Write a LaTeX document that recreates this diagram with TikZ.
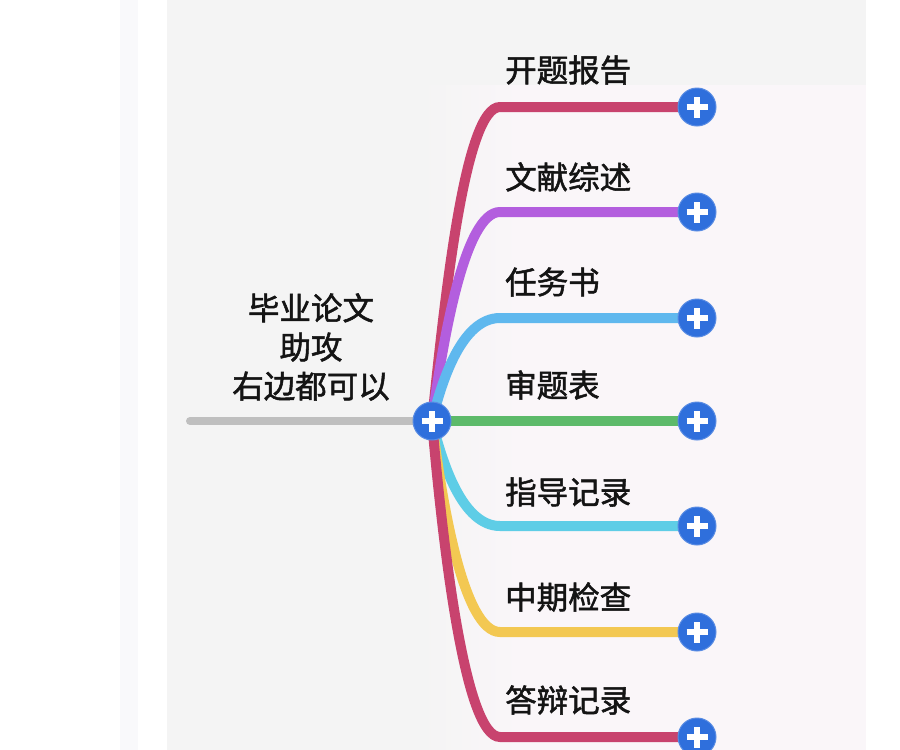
\documentclass[tikz,border=0pt]{standalone}
\usepackage{fontspec}
\newfontfamily\cjk{Noto Sans CJK SC}[FakeBold=1.6]
\usetikzlibrary{calc}
\definecolor{crim}{HTML}{C8436E}
\definecolor{purp}{HTML}{B35EDE}
\definecolor{lblue}{HTML}{5FB8EE}
\definecolor{grn}{HTML}{5DBA6A}
\definecolor{cyan2}{HTML}{5ECDE6}
\definecolor{yel}{HTML}{F3C852}
\definecolor{pblue}{HTML}{2F6FDC}
\definecolor{panel}{HTML}{F4F4F4}
\definecolor{pinkish}{HTML}{FAF6F9}
\definecolor{stripc}{HTML}{F9F9FB}
\begin{document}
\begin{tikzpicture}[x=1pt,y=-1pt,
  branch/.style={line width=10pt,line cap=round},
  plusnode/.style={circle,fill=pblue,draw=pblue!80!white,line width=1pt,minimum size=38pt,inner sep=0pt,
    path picture={\draw[white,line width=5.5pt] ($(path picture bounding box.center)+(-10.5pt,0)$) -- ($(path picture bounding box.center)+(10.5pt,0)$);
                  \draw[white,line width=5.5pt] ($(path picture bounding box.center)+(0,-10.5pt)$) -- ($(path picture bounding box.center)+(0,10.5pt)$);}},
  lab/.style={font=\cjk\fontsize{31.5}{36}\selectfont,anchor=west,inner sep=0pt,text=black!92}]
\useasboundingbox (0,0) rectangle (900,750);
\fill[white] (0,0) rectangle (900,750);
\fill[stripc] (120,0) rectangle (138,750);
\fill[panel] (167,0) rectangle (866,750);
\fill[pinkish] (520,85) rectangle (866,750);
\shade[left color=panel,right color=pinkish] (420,85) rectangle (520,750);
% positions
\coordinate (c) at (432,421);
\coordinate (g) at (190,421);
\coordinate (p1) at (697,107);
\coordinate (p2) at (697,212);
\coordinate (p3) at (697,318);
\coordinate (p4) at (697,421);
\coordinate (p5) at (697,526);
\coordinate (p6) at (697,632);
\coordinate (p7) at (697,737);
% connectors
\draw[line width=8pt,line cap=round,color=black!25] (g) -- (c);
\draw[branch,crim] (c) .. controls (445,295) and (465,107) .. (500,107) -- (p1);
\draw[branch,purp] (c) .. controls (443,338) and (465,212) .. (500,212) -- (p2);
\draw[branch,lblue] (c) .. controls (442,380) and (462,318) .. (500,318) -- (p3);
\draw[branch,grn] (c) -- (p4);
\draw[branch,cyan2] (c) .. controls (442,462) and (462,526) .. (500,526) -- (p5);
\draw[branch,yel] (c) .. controls (442,505) and (464,632) .. (500,632) -- (p6);
\draw[branch,crim] (c) .. controls (443,548) and (465,737) .. (500,737) -- (p7);
% nodes
\node[plusnode] (cn) at (c) {};
\node[plusnode] (n1) at (p1) {};
\node[plusnode] (n2) at (p2) {};
\node[plusnode] (n3) at (p3) {};
\node[plusnode] (n4) at (p4) {};
\node[plusnode] (n5) at (p5) {};
\node[plusnode] (n6) at (p6) {};
\node[plusnode] (n7) at (p7) {};
\node[lab] (l1) at (505,70) {开题报告};
\node[lab] (l2) at (505,177) {文献综述};
\node[lab] (l3) at (505,282) {任务书};
\node[lab] (l4) at (505,385) {审题表};
\node[lab] (l5) at (505,492) {指导记录};
\node[lab] (l6) at (505,597) {中期检查};
\node[lab] (l7) at (505,700) {答辩记录};
\node[font=\cjk\fontsize{31.5}{39}\selectfont,align=center,inner sep=0pt,text=black!92] (root) at (311,347) {毕业论文\\助攻\\右边都可以};
\end{tikzpicture}
\end{document}
